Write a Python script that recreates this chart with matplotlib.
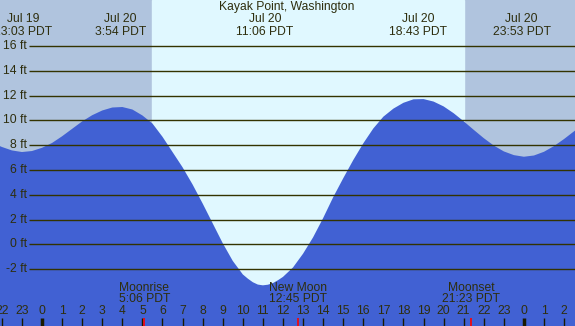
import matplotlib
matplotlib.use("Agg")
import matplotlib.pyplot as plt

plt.rcParams['font.family'] = ['Liberation Sans', 'DejaVu Sans']

# tide height (ft), hours from Jul 20 00:00 PDT
tide_hours = [-2.1, -2.0, -1.5, -1.0, -0.5, 0.0, 0.5, 1.0, 1.5, 2.0, 2.5, 3.0, 3.5,
              4.0, 4.5, 5.0, 5.5, 6.0, 6.5, 7.0, 7.5, 8.0, 8.5, 9.0, 9.5, 10.0, 10.25, 10.5,
              10.75, 11.0, 11.25, 11.5, 11.75, 12.0, 12.5, 13.0, 13.5, 14.0, 14.5, 15.0, 15.5,
              16.0, 16.5, 17.0, 17.5, 18.0, 18.5, 19.0, 19.5, 20.0, 20.5, 21.0, 21.5, 22.0,
              22.5, 23.0, 23.5, 24.0, 24.5, 25.0, 25.5, 26.0, 26.6]
tide_ft = [7.93, 7.86, 7.58, 7.45, 7.53, 7.79, 8.18, 8.72, 9.32, 9.92, 10.42, 10.8, 11.04,
           11.08, 10.88, 10.4, 9.75, 8.68, 7.45, 6.22, 4.83, 3.3, 1.7, 0.1, -1.33, -2.42, -2.76, -3.05,
           -3.24, -3.3, -3.25, -3.12, -2.89, -2.62, -1.86, -0.75, 0.57, 2.12, 3.8, 5.33, 6.8,
           8.15, 9.35, 10.3, 10.95, 11.42, 11.7, 11.72, 11.52, 11.13, 10.58, 9.93, 9.24, 8.57,
           7.97, 7.5, 7.2, 7.07, 7.17, 7.47, 7.93, 8.5, 9.25]

extreme_hours = [-0.95, 3.9, 11.1, 18.717, 23.883]
extreme_dates = ["Jul 19", "Jul 20", "Jul 20", "Jul 20", "Jul 20"]
extreme_times = ["23:03 PDT", "3:54 PDT", "11:06 PDT", "18:43 PDT", "23:53 PDT"]

moon_hours = [5.1, 12.75, 21.383]
moon_names = ["Moonrise", "New Moon", "Moonset"]
moon_times = ["5:06 PDT", "12:45 PDT", "21:23 PDT"]

sunrise, sunset = 5.49, 21.02
ft_levels = [-2, 0, 2, 4, 6, 8, 10, 12, 14, 16]
tick_hours = list(range(-2, 27))

night = "#b0c4de"
day = "#e0f8ff"
water = "#4161d3"
ink = "#2e2e0e"

fig = plt.figure(figsize=(5.75, 3.26), dpi=100)
ax = fig.add_axes([0, 0, 1, 1])
ax.set_xlim(-2.092, 26.544)
ax.set_ylim(-6.58, 19.71)
ax.axis('off')

ax.axvspan(-3, 30, color=night, zorder=0)
ax.axvspan(sunrise, sunset, color=day, zorder=1)
ax.fill_between(tide_hours, -7, tide_ft, color=water, lw=0, zorder=2)

ax.hlines(ft_levels, -0.65, 27, color="#333300", lw=1.0, zorder=3)
for v in ft_levels:
    ax.text(-0.75, v, "%d ft" % v, ha='right', va='center', fontsize=8.7, color=ink, zorder=4)

ax.text(12.2, 19.15, "Kayak Point, Washington", ha='center', va='center', fontsize=8.7, color=ink)
for h, d, t in zip(extreme_hours, extreme_dates, extreme_times):
    ax.text(h, 18.14, d, ha='center', va='center', fontsize=8.7, color=ink)
    ax.text(h, 17.13, t, ha='center', va='center', fontsize=8.7, color=ink)

for h, n, t in zip(moon_hours, moon_names, moon_times):
    ax.text(h, -3.52, n, ha='center', va='center', fontsize=8.7, color=ink, zorder=4)
    ax.text(h, -4.4, t, ha='center', va='center', fontsize=8.7, color=ink, zorder=4)

for h in tick_hours:
    ax.text(h, -5.37, str(h % 24), ha='center', va='center', fontsize=8.7, color=ink, zorder=4)
    w = 2.5 if h % 24 == 0 else 1.0
    ax.vlines(h, -6.7, -5.94, color="#1a1a00", lw=w, zorder=4)
ax.vlines(moon_hours, -6.7, -5.94, color="#ff0000", lw=1.2, zorder=5)

fig.savefig("out.png", dpi=100)
